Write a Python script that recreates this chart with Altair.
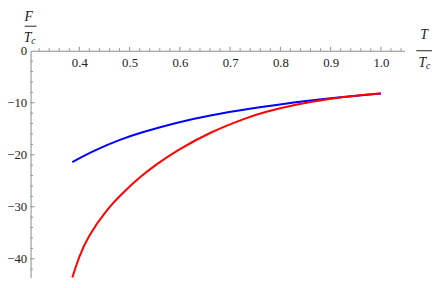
import altair as alt
import pandas as pd

# Curve data
T_blue = [0.386, 0.43, 0.483, 0.522, 0.593, 0.663, 0.735, 0.831, 0.9, 1.0]
F_blue = [-21.4, -19.15, -17.0, -15.75, -13.8, -12.35, -11.2, -9.85, -9.1, -8.2]
T_red = [0.386, 0.40, 0.4155, 0.454, 0.493, 0.522, 0.551, 0.593, 0.663, 0.735, 0.767, 0.831, 0.896, 0.95, 1.0]
F_red = [-43.6, -39.5, -36.0, -30.5, -26.7, -24.2, -22.0, -19.2, -15.5, -12.8, -11.8, -10.3, -9.25, -8.6, -8.2]

# Ticks
x_major = [0.4, 0.5, 0.6, 0.7, 0.8, 0.9, 1.0]
x_minor = [0.32, 0.34, 0.36, 0.38, 0.42, 0.44, 0.46, 0.48, 0.52, 0.54, 0.56, 0.58,
           0.62, 0.64, 0.66, 0.68, 0.72, 0.74, 0.76, 0.78, 0.82, 0.84, 0.86, 0.88,
           0.92, 0.94, 0.96, 0.98, 1.02, 1.04]
y_major = [0, -10, -20, -30, -40]
y_minor = [-2, -4, -6, -8, -12, -14, -16, -18, -22, -24, -26, -28,
           -32, -34, -36, -38, -42]

X_DOM = [0.303, 1.047]
Y_DOM = [-43.6, 0]
FONT = "Liberation Serif"
AX = "#8c8c8c"

xs = alt.Scale(domain=X_DOM, nice=False, zero=False)
ys = alt.Scale(domain=Y_DOM, nice=False, zero=False)

curves = pd.DataFrame({
    "T": T_blue + T_red,
    "F": F_blue + F_red,
    "s": ["blue"] * len(T_blue) + ["red"] * len(T_red),
})

lines = alt.Chart(curves).mark_line(strokeWidth=2, interpolate="basis", clip=False).encode(
    x=alt.X("T:Q", scale=xs,
            axis=alt.Axis(orient="top", values=x_major, format=".1f", ticks=False, tickSize=0,
                          grid=False, title=None, domainColor=AX, domainWidth=1,
                          labelFont=FONT, labelFontSize=13, labelColor="#222",
                          labelBaseline="middle", labelPadding=-12, labelFlush=False)),
    y=alt.Y("F:Q", scale=ys,
            axis=alt.Axis(orient="left", values=y_major, ticks=False, tickSize=0, grid=False,
                          title=None, domainColor=AX, domainWidth=1,
                          labelFont=FONT, labelFontSize=13, labelColor="#222",
                          labelPadding=4, labelFlush=False)),
    color=alt.Color("s:N", scale=alt.Scale(domain=["blue", "red"], range=["#0000ff", "#ff0000"]),
                    legend=None),
    detail="s:N",
)

xmaj = alt.Chart(pd.DataFrame({"v": x_major})).mark_rule(color=AX, strokeWidth=1).encode(
    x=alt.X("v:Q", scale=xs), y=alt.value(0), y2=alt.value(-4))
xmin = alt.Chart(pd.DataFrame({"v": x_minor})).mark_rule(color=AX, strokeWidth=1).encode(
    x=alt.X("v:Q", scale=xs), y=alt.value(0), y2=alt.value(-2.5))
ymaj = alt.Chart(pd.DataFrame({"v": y_major[1:]})).mark_rule(color=AX, strokeWidth=1).encode(
    y=alt.Y("v:Q", scale=ys), x=alt.value(0), x2=alt.value(4))
ymin = alt.Chart(pd.DataFrame({"v": y_minor})).mark_rule(color=AX, strokeWidth=1).encode(
    y=alt.Y("v:Q", scale=ys), x=alt.value(0), x2=alt.value(2.5))

def txt(s, x, y, size=14):
    return alt.Chart(pd.DataFrame({"t": [s]})).mark_text(
        font=FONT, fontSize=size, fontStyle="italic", color="#222", align="center", baseline="middle"
    ).encode(text="t:N", x=alt.value(x), y=alt.value(y))

def bar(x1, x2, y):
    return alt.Chart(pd.DataFrame({"a": [0]})).mark_rule(color="#222", strokeWidth=1).encode(
        x=alt.value(x1), x2=alt.value(x2), y=alt.value(y))

# y-axis title F / T_c
ylab = txt("F", -2, -34) + bar(-6, 6, -25) + txt("T", -3, -13) + txt("c", 3, -10, 10)
# x-axis title T / T_c
xlab = txt("T", 401, -16) + bar(393, 409, 0) + txt("T", 399, 13) + txt("c", 405, 16, 10)

chart = alt.layer(xmin, xmaj, ymin, ymaj, lines, ylab, xlab).properties(
    width=381, height=231,
    autosize=alt.AutoSizeParams(type="none"),
    padding={"left": 23, "top": 41, "right": 29, "bottom": 1},
).configure_view(stroke=None)

chart.save("out.html", embed_options={"renderer": "svg", "actions": False})
